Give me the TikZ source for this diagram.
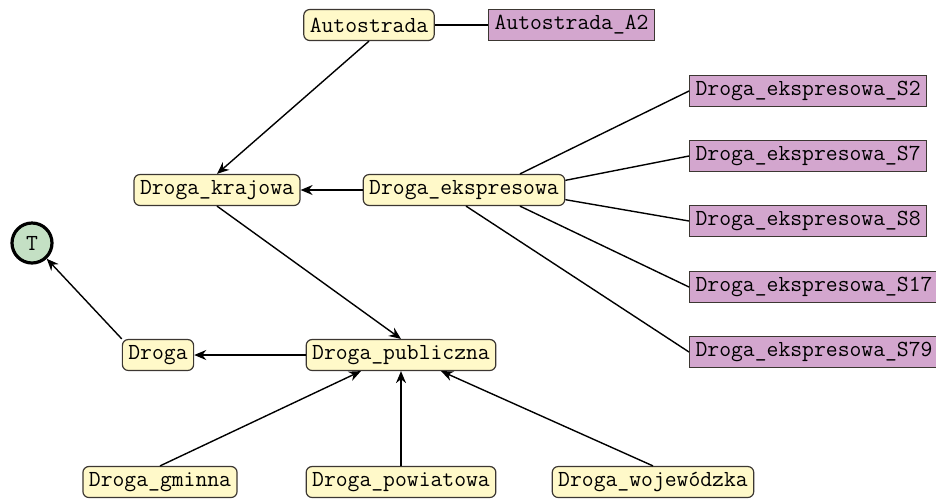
\documentclass[tikz,border=0pt]{standalone}
\usetikzlibrary{arrows.meta,calc}
\definecolor{yel}{RGB}{255,249,201}
\definecolor{pur}{RGB}{211,166,206}
\definecolor{grn}{RGB}{196,224,196}
\definecolor{bord}{RGB}{60,55,50}
\begin{document}
\begin{tikzpicture}[x=0.5pt,y=-0.5pt,
  every node/.style={font=\fontsize{11.5}{13}\selectfont\ttfamily},
  cls/.style={draw=bord,fill=yel,rounded corners=3pt,line width=0.6pt,inner xsep=3pt,inner ysep=0pt,minimum height=15.5pt},
  inst/.style={draw=bord,fill=pur,line width=0.6pt,inner xsep=3pt,inner ysep=0pt,minimum height=15.5pt,anchor=west},
  top/.style={circle,draw=black,fill=grn,line width=1.6pt,minimum size=20pt,inner sep=0pt},
  isa/.style={line width=0.7pt,-{Stealth[length=6pt,width=5pt]}},
  rel/.style={line width=0.7pt}]
\useasboundingbox (0,0) rectangle (936,500);
\node[cls] (auto) at (369,25) {Autostrada};
\node[inst] (a2) at (488,25) {Autostrada\_A2};
\node[cls] (kraj) at (217,190) {Droga\_krajowa};
\node[cls] (eks) at (464,190) {Droga\_ekspresowa};
\node[inst] (s2) at (689,91) {Droga\_ekspresowa\_S2};
\node[inst] (s7) at (689,156) {Droga\_ekspresowa\_S7};
\node[inst] (s8) at (689,221) {Droga\_ekspresowa\_S8};
\node[inst] (s17) at (689,287) {Droga\_ekspresowa\_S17};
\node[inst] (s79) at (689,352) {Droga\_ekspresowa\_S79};
\node[top] (T) at (32,243) {T};
\node[cls] (droga) at (158,355) {Droga};
\node[cls] (pub) at (401,355) {Droga\_publiczna};
\node[cls] (gm) at (160,482) {Droga\_gminna};
\node[cls] (pow) at (401,482) {Droga\_powiatowa};
\node[cls] (woj) at (653,482) {Droga\_wojewódzka};

\draw[rel] (auto) -- (a2);
\draw[isa] (auto.south) -- (kraj.north);
\draw[isa] (eks.west) -- (kraj.east);
\draw[rel] ($(eks.north west)!0.776!(eks.north east)$) -- (s2.west);
\draw[rel] ($(eks.north east)!0.2!(eks.south east)$) -- (s7.west);
\draw[rel] ($(eks.north east)!0.8!(eks.south east)$) -- (s8.west);
\draw[rel] ($(eks.south west)!0.776!(eks.south east)$) -- (s17.west);
\draw[rel] ($(eks.south west)!0.51!(eks.south east)$) -- (s79.west);
\draw[isa] (kraj.south) -- (pub.north);
\draw[isa] (pub.west) -- (droga.east);
\draw[isa] (droga.north west) -- (T);
\draw[isa] (gm.north) -- ($(pub.south west)!0.29!(pub.south east)$);
\draw[isa] (pow.north) -- (pub.south);
\draw[isa] (woj.north) -- ($(pub.south west)!0.71!(pub.south east)$);
\end{tikzpicture}
\end{document}
